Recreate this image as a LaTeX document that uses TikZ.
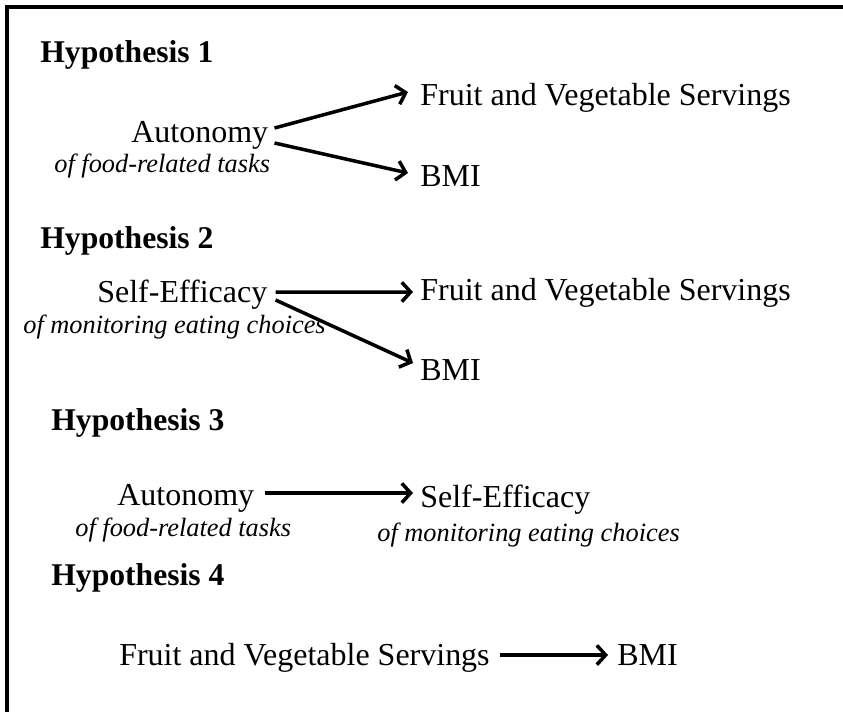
\documentclass[tikz,border=0pt]{standalone}
\usepackage{fontspec}
\setmainfont{Liberation Serif}
\usetikzlibrary{positioning}
\usetikzlibrary{arrows.meta}

\tikzset{
  hyp/.style={font=\fontsize{18}{22}\selectfont\bfseries, inner sep=0pt, anchor=base west},
  lbl/.style={font=\fontsize{18.2}{22}\selectfont, inner sep=0pt, anchor=base west},
  sub/.style={font=\fontsize{15}{18}\selectfont\itshape, inner sep=0pt, anchor=base west},
  arr/.style={line width=2pt, -{Straight Barb[length=5pt,width=11pt]}}
}

\begin{document}
\begin{tikzpicture}
	\useasboundingbox (0,0) rectangle (16.86,-14.22);
	% frame
	\draw[line width=2.3pt] (0.14,-14.3) -- (0.14,-0.14) -- (16.9,-0.14);

	% Hypothesis 1
	\node[hyp] (hyp1) at (0.80,-1.24) {Hypothesis 1};
	\node[lbl] (auto1) at (2.62,-2.84) {Autonomy};
	\node[sub] (task1) at (1.08,-3.44) {of food-related tasks};
	\node[lbl] (fruit1) at (8.40,-2.10) {Fruit and Vegetable Servings};
	\node[lbl] (bmi1) at (8.40,-3.72) {BMI};
	\draw[arr] ([shift={(0.12,0.28)}]auto1.base east) -- ([shift={(-0.24,0.26)}]fruit1.base west);
	\draw[arr] ([shift={(0.12,-0.02)}]auto1.base east) -- ([shift={(-0.24,0.26)}]bmi1.base west);

	% Hypothesis 2
	\node[hyp] (hyp2) at (0.80,-4.96) {Hypothesis 2};
	\node[lbl] (self2) at (1.94,-6.04) {Self-Efficacy};
	\node[sub] (choice2) at (0.46,-6.66) {of monitoring eating choices};
	\node[lbl] (fruit2) at (8.40,-6.00) {Fruit and Vegetable Servings};
	\node[lbl] (bmi2) at (8.40,-7.60) {BMI};
	\draw[arr] ([shift={(0.16,0.20)}]self2.base east) -- ([shift={(-0.14,0.16)}]fruit2.base west);
	\draw[arr] ([shift={(0.16,0.04)}]self2.base east) -- ([shift={(-0.14,0.34)}]bmi2.base west);

	% Hypothesis 3
	\node[hyp] (hyp3) at (1.02,-8.60) {Hypothesis 3};
	\node[lbl] (auto3) at (2.34,-10.10) {Autonomy};
	\node[sub] (task3) at (1.50,-10.72) {of food-related tasks};
	\node[lbl] (self3) at (8.40,-10.14) {Self-Efficacy};
	\node[sub] (choice3) at (7.54,-10.82) {of monitoring eating choices};
	\draw[arr] ([shift={(0.20,0.24)}]auto3.base east) -- ([shift={(-0.14,0.28)}]self3.base west);

	% Hypothesis 4
	\node[hyp] (hyp4) at (1.02,-11.70) {Hypothesis 4};
	\node[lbl, anchor=base east] (fruit4) at (9.80,-13.30) {Fruit and Vegetable Servings};
	\node[lbl] (bmi4) at (12.34,-13.30) {BMI};
	\draw[arr] ([shift={(0.20,0.20)}]fruit4.base east) -- ([shift={(-0.18,0.20)}]bmi4.base west);
\end{tikzpicture}
\end{document}
